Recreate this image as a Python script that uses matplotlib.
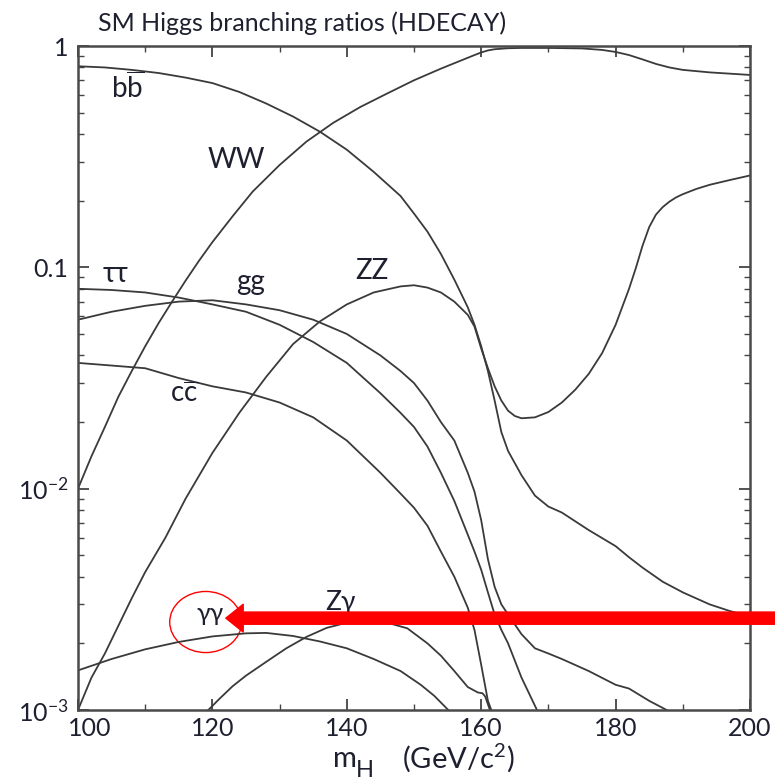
import matplotlib
matplotlib.use("Agg")
import matplotlib.pyplot as plt
from matplotlib.patches import Ellipse
from matplotlib.ticker import FixedLocator, NullFormatter
import matplotlib.transforms as mtrans

plt.rcParams['font.family'] = ['Lato', 'DejaVu Sans']
plt.rcParams['mathtext.fontset'] = 'custom'
plt.rcParams['mathtext.rm'] = 'Lato'
plt.rcParams['mathtext.it'] = 'Lato'

# --- branching ratios (m_H in GeV) ---
m_bb = [100, 104, 108, 112, 116, 120, 124, 128, 132, 136, 140, 144, 148, 150, 152, 154, 156, 158,
        159, 160, 161, 162, 163, 164, 166, 168, 170, 172, 176, 180, 182, 184, 187, 190, 194, 197, 200]
br_bb = [0.81, 0.80, 0.78, 0.755, 0.72, 0.68, 0.62, 0.55, 0.48, 0.41, 0.34, 0.27, 0.21, 0.175,
         0.145, 0.115, 0.088, 0.066, 0.055, 0.044, 0.034, 0.025, 0.018, 0.0148, 0.0115, 0.0093,
         0.0083, 0.0078, 0.0065, 0.0055, 0.0049, 0.0044, 0.0038, 0.0034, 0.0030, 0.0028, 0.00265]

m_ww = [100, 102, 104, 106, 108, 110, 112, 114, 116, 118, 120, 123, 126, 130, 134, 138, 142, 146,
        150, 154, 157, 159, 160, 161, 162, 164, 166, 170, 175, 178, 180, 182, 184, 186, 188, 190,
        194, 197, 200]
br_ww = [0.010, 0.014, 0.019, 0.026, 0.034, 0.044, 0.056, 0.070, 0.087, 0.107, 0.13, 0.17, 0.22,
         0.29, 0.37, 0.45, 0.53, 0.61, 0.70, 0.79, 0.86, 0.91, 0.935, 0.955, 0.967, 0.977, 0.98,
         0.98, 0.975, 0.96, 0.94, 0.91, 0.87, 0.83, 0.80, 0.78, 0.76, 0.75, 0.74]

m_zz = [100, 102, 104, 106, 108, 110, 113, 116, 120, 124, 128, 132, 136, 140, 144, 148, 150, 152,
        154, 156, 158, 159, 160, 161, 162, 163, 164, 165, 166, 168, 170, 172, 174, 176, 178, 180,
        182, 183, 184, 185, 186, 187, 188, 189, 190, 192, 194, 197, 200]
br_zz = [0.0010, 0.0014, 0.0018, 0.0024, 0.0032, 0.0042, 0.0060, 0.0090, 0.0145, 0.022, 0.032,
         0.045, 0.057, 0.068, 0.077, 0.082, 0.083, 0.081, 0.077, 0.070, 0.061, 0.054, 0.043,
         0.035, 0.029, 0.025, 0.0225, 0.0213, 0.0208, 0.021, 0.0222, 0.0245, 0.028, 0.033, 0.041,
         0.055, 0.080, 0.099, 0.125, 0.152, 0.173, 0.187, 0.198, 0.207, 0.214, 0.226, 0.236,
         0.248, 0.260]

m_tau = [100, 105, 110, 115, 120, 125, 130, 135, 140, 145, 148, 150, 152, 154, 156, 158, 159,
         160, 161, 162, 163, 164, 166, 168.3]
br_tau = [0.080, 0.079, 0.077, 0.073, 0.068, 0.063, 0.055, 0.046, 0.037, 0.027, 0.022, 0.019,
          0.0155, 0.0118, 0.0088, 0.0062, 0.0052, 0.0043, 0.0034, 0.0027, 0.0023, 0.0020,
          0.0014, 0.0010]

m_gg = [100, 105, 110, 115, 120, 125, 130, 135, 140, 145, 148, 150, 152, 154, 156, 158, 159, 160,
        161, 162, 163, 164, 166, 168, 170, 172, 176, 180, 182, 185, 187.6]
br_gg = [0.058, 0.063, 0.067, 0.070, 0.071, 0.068, 0.064, 0.058, 0.050, 0.040, 0.034, 0.030,
         0.025, 0.020, 0.0165, 0.0118, 0.0097, 0.0072, 0.0048, 0.0036, 0.0030, 0.0027, 0.0022,
         0.0019, 0.0018, 0.0017, 0.0015, 0.0013, 0.00125, 0.0011, 0.0010]

m_cc = [100, 105, 110, 115, 120, 125, 130, 135, 140, 145, 148, 150, 152, 154, 156, 158, 159,
        160, 161, 161.5]
br_cc = [0.037, 0.036, 0.035, 0.0316, 0.029, 0.0272, 0.0245, 0.021, 0.0165, 0.0118, 0.0095,
         0.0082, 0.0068, 0.0052, 0.0040, 0.0029, 0.0023, 0.0016, 0.0011, 0.0010]

m_aa = [100, 105, 110, 115, 120, 125, 128, 132, 136, 140, 144, 148, 151, 153, 155.1]
br_aa = [0.00151, 0.00170, 0.00188, 0.00203, 0.00215, 0.00222, 0.00223, 0.00216, 0.00204,
         0.00190, 0.00170, 0.00150, 0.00130, 0.00116, 0.0010]

m_za = [119.4, 121, 123, 125, 128, 131, 134, 137, 140, 143, 146, 149, 152, 154, 156, 158, 159.5,
        160.2, 160.6, 161.3]
br_za = [0.0010, 0.00112, 0.00128, 0.00143, 0.00165, 0.00190, 0.00214, 0.00235, 0.00248, 0.00252,
         0.00248, 0.00234, 0.0020, 0.00176, 0.0015, 0.00127, 0.00120, 0.00119, 0.00115, 0.0010]

curves = [(m_bb, br_bb), (m_ww, br_ww), (m_zz, br_zz), (m_tau, br_tau), (m_gg, br_gg),
          (m_cc, br_cc), (m_aa, br_aa), (m_za, br_za)]

# label text, where it sits (mass, BR), font size
labels = [(r'b$\mathregular{\overline{b}}$', 104.9, 0.582, 20),
          ('WW', 119.3, 0.281, 20),
          ('ττ', 103.7, 0.0859, 20),
          ('gg', 123.5, 0.0789, 20),
          ('ZZ', 141.2, 0.0885, 20),
          (r'c$\mathregular{\overline{c}}$', 113.7, 0.0246, 20),
          ('γγ', 117.7, 0.00252, 18),
          ('Zγ', 136.8, 0.00283, 19)]

text_col = '#1e2030'
line_col = '#3a3a3a'

fig = plt.figure(figsize=(7.75, 7.82), dpi=100)
ax = fig.add_axes([78 / 775, 1 - 710 / 782, 672 / 775, 664 / 782])

for m, br in curves:
    ax.plot(m, br, color=line_col, lw=1.3)

ax.set_yscale('log')
ax.set_xlim(100, 200)
ax.set_ylim(1e-3, 1)

ax.set_xticks([100, 120, 140, 160, 180, 200])
ax.xaxis.set_minor_locator(FixedLocator([110, 130, 150, 170, 190]))
ax.set_yticks([1e-3, 1e-2, 1e-1, 1])
ax.set_yticklabels([r'$\mathregular{10^{-3}}$', r'$\mathregular{10^{-2}}$', '0.1', '1'])
ax.yaxis.set_minor_formatter(NullFormatter())
ax.tick_params(which='both', direction='in', top=True, right=True, colors='#444444',
               labelcolor=text_col, labelsize=18)
ax.tick_params(which='major', length=8, width=1.3)
ax.tick_params(which='minor', length=4.5, width=1.0)
ax.tick_params(axis='x', which='major', pad=5)
ax.tick_params(axis='y', which='major', pad=7)
for s in ax.spines.values():
    s.set_color('#4a4a4a')
    s.set_linewidth(1.8)

# nudge the "100" label off the y tick labels
off = mtrans.ScaledTranslation(0.115, 0, fig.dpi_scale_trans)
lab0 = ax.get_xticklabels()[0]
lab0.set_transform(lab0.get_transform() + off)

for txt, mx, by, fs in labels:
    ax.text(mx, by, txt, fontsize=fs, color=text_col, ha='left', va='baseline')

fig.text(98 / 775, 1 - 31 / 782, 'SM Higgs branching ratios (HDECAY)', fontsize=18,
         color=text_col, ha='left', va='baseline')
# axis title: m_H  (GeV/c^2)
fig.text(333 / 775, 1 - 767 / 782, 'm', fontsize=21, color=text_col, ha='left', va='baseline')
fig.text(356 / 775, 1 - 777 / 782, 'H', fontsize=17, color=text_col, ha='left', va='baseline')
fig.text(402 / 775, 1 - 768 / 782, r'(GeV/c$^{\mathregular{2}}$)', fontsize=21, color=text_col,
         ha='left', va='baseline')

# red highlight around the gamma-gamma label and the arrow pointing at it
ax.add_patch(Ellipse((0.19, 0.1325), 0.107, 0.092, transform=ax.transAxes, fill=False,
                     edgecolor='red', lw=1.0, clip_on=False))
ax.annotate('', xy=(122.0, 0.0026), xytext=(204.5, 0.0026), annotation_clip=False,
            arrowprops=dict(arrowstyle='simple,head_width=2.0,head_length=1.25,tail_width=0.88',
                            color='red', mutation_scale=10, shrinkA=0, shrinkB=0))

fig.savefig('out.png', dpi=100)
